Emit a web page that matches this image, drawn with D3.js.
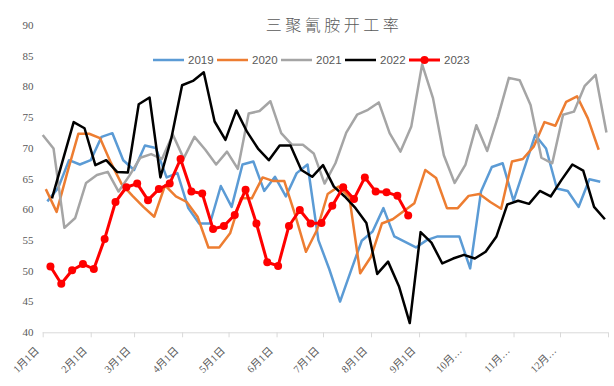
<!DOCTYPE html>
<html><head><meta charset="utf-8">
<script src="https://cdn.jsdelivr.net/npm/d3@7/dist/d3.min.js"></script>
<style>
html,body{margin:0;padding:0;background:#fff;}
svg{display:block;}
</style></head>
<body>
<script>
// ---- data ----
const years = ["2019","2020","2021","2022","2023"];
const startDates = ["2019-01-04","2020-01-03","2021-01-01","2022-01-07","2023-01-06"]; // weekly (Fridays)
const s2019 = [61.3,63.5,68.0,67.3,68.0,71.8,72.4,68.0,66.4,70.4,70.0,65.2,65.9,60.2,57.7,57.7,63.8,60.4,67.3,67.8,63.0,65.3,62.1,65.9,67.3,55.0,50.3,45.0,50.0,54.9,56.4,60.2,55.6,54.7,53.8,55.0,55.6,55.6,55.6,50.4,62.9,66.9,67.5,61.4,66.7,72.1,69.9,63.4,63.0,60.4,64.9,64.5];
const s2020 = [63.3,59.6,66.1,72.3,72.3,71.6,67.6,64.1,62.2,60.4,58.8,63.9,62.1,61.2,58.8,53.8,53.8,56.1,61.8,61.8,65.2,64.6,64.6,59.1,53.1,56.6,62.5,63.7,62.0,49.6,52.3,57.7,58.4,59.7,61.0,66.4,65.1,60.2,60.2,62.2,62.5,61.2,60.1,67.8,68.2,70.2,74.2,73.6,77.5,78.4,74.8,69.7];
const s2021 = [72.1,69.9,57.0,58.6,64.3,65.6,66.1,62.9,65.5,68.4,69.0,68.2,72.2,68.3,71.8,69.7,67.3,69.4,66.6,75.6,76.0,77.6,72.4,70.5,70.5,69.1,64.2,67.5,72.5,75.4,76.2,77.4,72.4,69.4,73.5,83.6,78.1,68.8,64.3,67.3,73.7,69.5,75.1,81.4,81.0,77.0,68.4,67.5,75.4,75.9,80.1,81.9,72.5];
const s2022 = [61.8,68.0,74.2,73.2,67.2,68.0,66.1,66.0,77.1,78.2,65.2,71.5,80.2,80.9,82.3,74.3,71.3,76.1,72.6,69.9,68.0,70.4,70.4,66.4,65.3,67.2,63.7,62.1,60.2,57.8,49.5,51.5,47.5,41.5,56.3,54.6,51.2,52.0,52.6,52.0,53.1,55.6,60.8,61.4,60.9,63.0,62.1,64.8,67.3,66.3,60.4,58.4];
const s2023 = [50.7,47.9,50.1,51.1,50.3,55.2,61.2,63.6,64.2,61.5,63.3,64.2,68.2,62.9,62.6,56.8,57.3,59.1,63.2,57.7,51.4,50.8,57.3,59.9,57.7,57.8,60.6,63.6,61.7,65.2,62.9,62.8,62.2,59.0];
const monthLabels = ["1月1日","2月1日","3月1日","4月1日","5月1日","6月1日","7月1日","8月1日","9月1日","10月…","11月…","12月…"];
const monthStartDays = [0,31,59,90,120,151,181,212,243,273,304,334,365];
const yTicks = [40,45,50,55,60,65,70,75,80,85,90];
const title = "三聚氰胺开工率";

const colors = ["#5B9BD5","#ED7D31","#A5A5A5","#000000","#FF0000"];
const seriesVals = [s2019,s2020,s2021,s2022,s2023];

// ---- layout ----
const W = 614, H = 386;
const svg = d3.select("body").append("svg").attr("width",W).attr("height",H);

const x = d3.scaleLinear().domain([0,365]).range([42.7,608]);
const y = d3.scaleLinear().domain([40,90]).range([332.3,25]);

const parse = d3.timeParse("%Y-%m-%d");
const series = years.map((yr,k)=>{
  const st = parse(startDates[k]);
  const y0 = d3.timeYear(st);
  return {name:yr,color:colors[k],points:seriesVals[k].map((v,i)=>{
    const dt = d3.timeDay.offset(st,7*i);
    return {doy:d3.timeDay.count(y0,dt), v};
  })};
});

// y labels
svg.append("g").selectAll("text").data(yTicks).join("text")
  .attr("x",33.5).attr("y",d=>y(d)).attr("dy","0.35em")
  .attr("text-anchor","end")
  .attr("font-family","'Liberation Serif','Noto Sans CJK SC',serif")
  .attr("font-size",11).attr("fill","#595959").text(d=>d);

// x axis
const xa = svg.append("g").attr("transform",`translate(0,${y(40)})`)
  .call(d3.axisBottom(x).tickValues(monthStartDays).tickSize(5).tickFormat(""));
xa.select(".domain").attr("stroke","#D9D9D9").attr("stroke-width",1).attr("d",`M${x(0)},0.5H${x(365)}`);
xa.selectAll(".tick line").attr("stroke","#D9D9D9");

svg.append("g").selectAll("text").data(monthLabels).join("text")
  .attr("transform",(d,i)=>`translate(${x(monthStartDays[i])-3},${y(40)+19}) rotate(-45)`)
  .attr("text-anchor","end")
  .attr("font-family","'Liberation Serif','Noto Sans CJK SC',serif")
  .attr("font-size",10.5).attr("fill","#595959").text(d=>d);

// lines
const line = d3.line().x(d=>x(d.doy)).y(d=>y(d.v));
const g = svg.append("g");
series.forEach((s,k)=>{
  g.append("path").datum(s.points).attr("d",line)
    .attr("fill","none").attr("stroke",s.color)
    .attr("stroke-width",k===4?3:2.5).attr("stroke-linejoin","round");
});
const red = series[4];
g.append("g").selectAll("circle").data(red.points).join("circle")
  .attr("cx",d=>x(d.doy)).attr("cy",d=>y(d.v)).attr("r",4).attr("fill",red.color);

// title
svg.append("text").attr("x",334).attr("y",31).attr("text-anchor","middle")
  .attr("font-family","'Noto Sans CJK SC',sans-serif").attr("font-weight",300)
  .attr("font-size",16).attr("letter-spacing","3.5px").attr("fill","#595959").text(title);

// legend
const legX = [153,217,281,345,409];
const lg = svg.append("g");
series.forEach((s,k)=>{
  const gx = legX[k], gy = 60;
  lg.append("line").attr("x1",gx).attr("x2",gx+31).attr("y1",gy).attr("y2",gy)
    .attr("stroke",s.color).attr("stroke-width",k===4?3:2.5);
  if(k===4) lg.append("circle").attr("cx",gx+15.5).attr("cy",gy).attr("r",4).attr("fill",s.color);
  lg.append("text").attr("x",gx+35).attr("y",gy).attr("dy","0.35em")
    .attr("font-family","'Liberation Sans',Arial,sans-serif").attr("font-size",11.5)
    .attr("fill","#595959").text(s.name);
});
</script>
</body></html>
